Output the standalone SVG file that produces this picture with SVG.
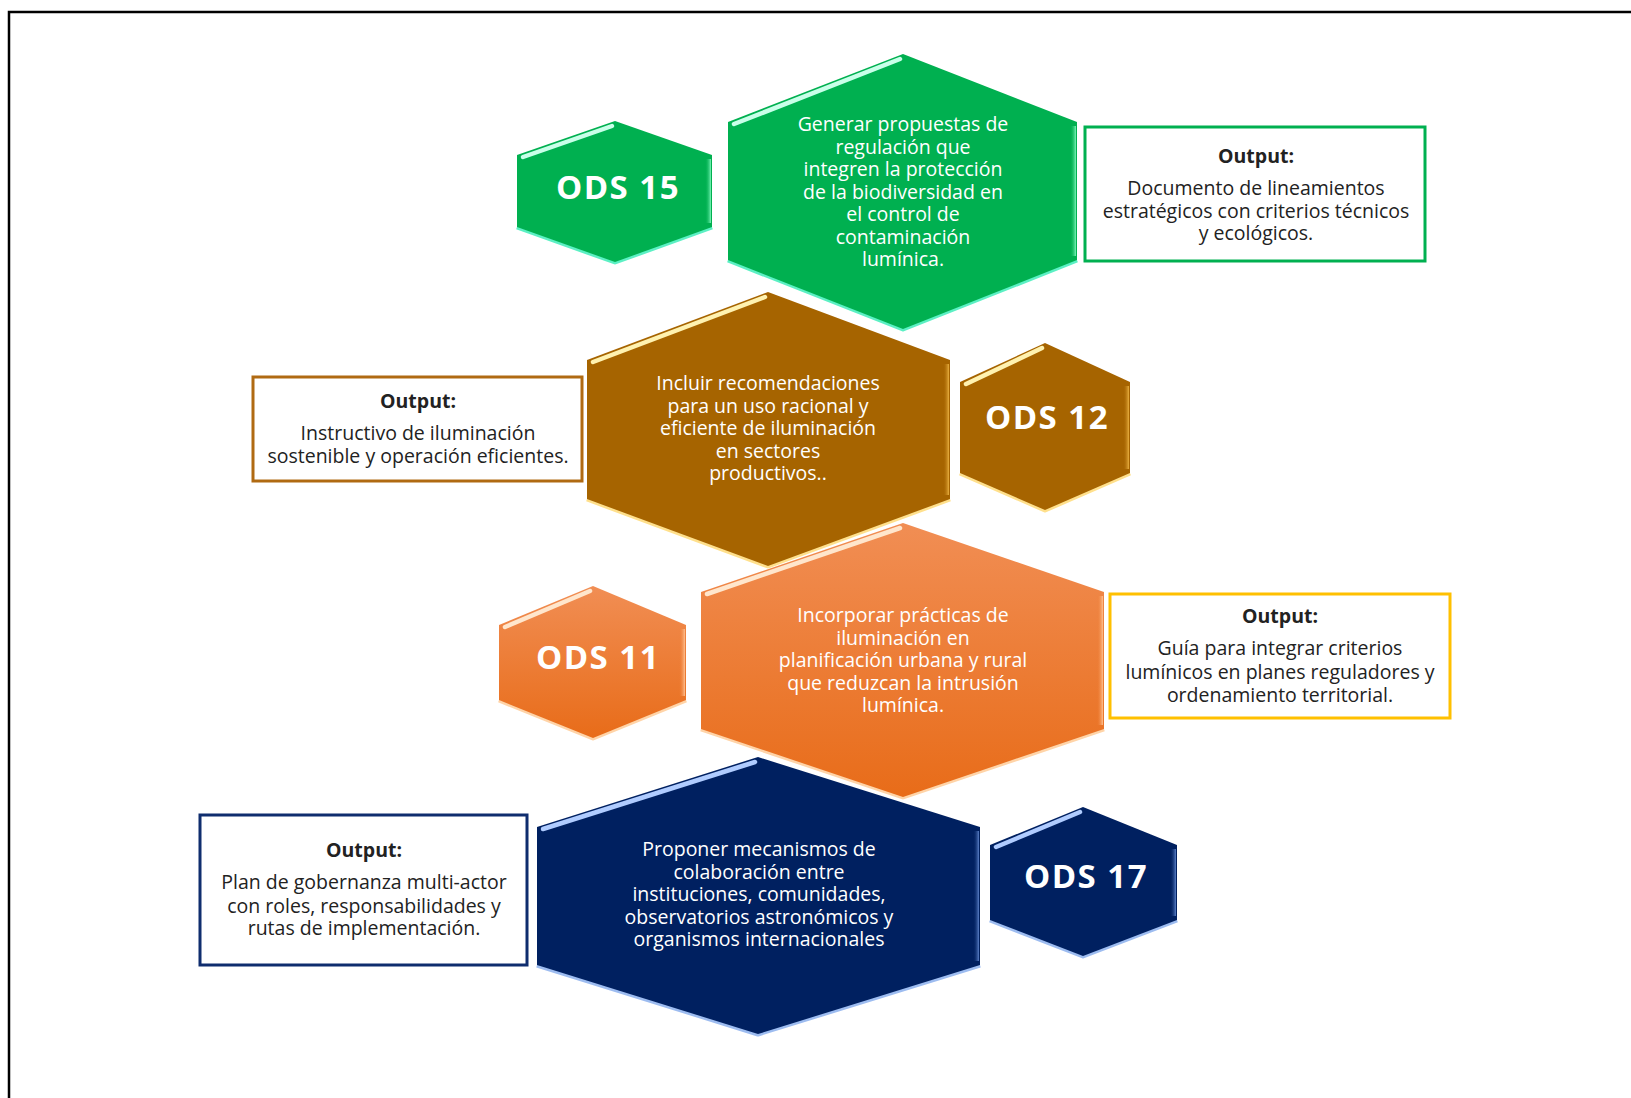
<svg xmlns="http://www.w3.org/2000/svg" width="1631" height="1098" viewBox="0 0 1631 1098">
<defs>
<filter id="soft" filterUnits="userSpaceOnUse" x="0" y="0" width="1631" height="1098"><feGaussianBlur stdDeviation="0.7"/></filter>
<linearGradient id="og" x1="0" y1="0" x2="0" y2="1"><stop offset="0" stop-color="#f18e54"/><stop offset="1" stop-color="#e86c19"/></linearGradient>
<linearGradient id="sg" x1="0" y1="0" x2="1" y2="0"><stop offset="0" stop-color="#00b050" stop-opacity="0"/><stop offset="1" stop-color="#7af5b8"/></linearGradient>
<linearGradient id="sb" x1="0" y1="0" x2="1" y2="0"><stop offset="0" stop-color="#a66400" stop-opacity="0"/><stop offset="1" stop-color="#eab040"/></linearGradient>
<linearGradient id="so" x1="0" y1="0" x2="1" y2="0"><stop offset="0" stop-color="#ee7a30" stop-opacity="0"/><stop offset="1" stop-color="#ffc090"/></linearGradient>
<linearGradient id="sn" x1="0" y1="0" x2="1" y2="0"><stop offset="0" stop-color="#002060" stop-opacity="0"/><stop offset="1" stop-color="#5a80c8"/></linearGradient>
</defs>
<style>
.frame{fill:none;stroke:#000;stroke-width:2.5}
.ht{font-family:"Open Sans","Liberation Sans",sans-serif;font-size:19.5px;fill:#fff;text-anchor:middle}
.ods{font-family:"Open Sans","Liberation Sans",sans-serif;font-size:33px;font-weight:700;fill:#fff;text-anchor:middle;letter-spacing:1.5px}
.bt{font-family:"Open Sans","Liberation Sans",sans-serif;font-size:19.5px;fill:#222;text-anchor:middle}
.bh{font-weight:700}
.box{fill:#fff;stroke-width:3}
.hl{fill:none;stroke-width:4.5;stroke-linecap:round;filter:url(#soft)}
.glow{fill:none;stroke-width:5;stroke-linejoin:round}
.g .fill{fill:#00b050}.g .glow{stroke:#5cf0c4}.g .hl{stroke:#c9ffe9}
.b .fill{fill:#a66400}.b .glow{stroke:#ffe08c}.b .hl{stroke:#fff2b0}
.o .fill{fill:url(#og)}.o .glow{stroke:#ffd4a8}.o .hl{stroke:#ffe6cc}
.n .fill{fill:#002060}.n .glow{stroke:#9dbcf0}.n .hl{stroke:#b0ccff}
</style>
<rect width="1631" height="1098" fill="#fff"/>
<path class="frame" d="M9,1098 V12 H1631"/>
<g id="connectors"/>

<g id="hex-green-main" class="g">
<polyline class="glow" points="728,260 903,329 1077,260"/>
<polygon class="fill" points="903,54 1077,122 1077,260 903,329 728,260 728,122"/>
<line class="hl" x1="734" y1="124" x2="900" y2="59"/>
<rect x="1070" y="126" width="6" height="130" fill="url(#sg)"/>
<text class="ht"><tspan x="903" y="131">Generar propuestas de</tspan><tspan x="903" y="153.5">regulación que</tspan><tspan x="903" y="176">integren la protección</tspan><tspan x="903" y="198.5">de la biodiversidad en</tspan><tspan x="903" y="221">el control de</tspan><tspan x="903" y="243.5">contaminación</tspan><tspan x="903" y="266">lumínica.</tspan></text>
</g>
<g id="hex-ods15" class="g">
<polyline class="glow" points="517,227 615,262 712,227"/>
<polygon class="fill" points="615,121 712,155 712,227 615,262 517,227 517,155"/>
<line class="hl" x1="523" y1="157" x2="612" y2="126"/>
<rect x="705" y="159" width="6" height="64" fill="url(#sg)"/>
<text class="ods" x="618" y="199">ODS 15</text>
</g>
<g id="out-green">
<rect class="box" x="1085" y="127" width="340" height="134" stroke="#00b050"/>
<text class="bt"><tspan class="bh" x="1256" y="163">Output:</tspan><tspan x="1256" y="195">Documento de lineamientos</tspan><tspan x="1256" y="217.5">estratégicos con criterios técnicos</tspan><tspan x="1256" y="239.5">y ecológicos.</tspan></text>
</g>

<g id="hex-brown-main" class="b">
<polyline class="glow" points="587,499 768,566 950,499"/>
<polygon class="fill" points="768,292 950,360 950,499 768,566 587,499 587,360"/>
<line class="hl" x1="593" y1="362" x2="765" y2="297"/>
<rect x="943" y="364" width="6" height="131" fill="url(#sb)"/>
<text class="ht"><tspan x="768" y="390">Incluir recomendaciones</tspan><tspan x="768" y="412.5">para un uso racional y</tspan><tspan x="768" y="435">eficiente de iluminación</tspan><tspan x="768" y="457.5">en sectores</tspan><tspan x="768" y="480">productivos..</tspan></text>
</g>
<g id="hex-ods12" class="b">
<polyline class="glow" points="960,473 1045,510 1130,473"/>
<polygon class="fill" points="1045,343 1130,382 1130,473 1045,510 960,473 960,382"/>
<line class="hl" x1="966" y1="384" x2="1042" y2="348"/>
<rect x="1123" y="386" width="6" height="83" fill="url(#sb)"/>
<text class="ods" x="1047" y="429">ODS 12</text>
</g>
<g id="out-brown">
<rect class="box" x="253" y="377" width="329" height="104" stroke="#b06a12"/>
<text class="bt"><tspan class="bh" x="418" y="408">Output:</tspan><tspan x="418" y="440">Instructivo de iluminación</tspan><tspan x="418" y="462.5">sostenible y operación eficientes.</tspan></text>
</g>

<g id="hex-orange-main" class="o">
<polyline class="glow" points="701,729 903,797 1104,729"/>
<polygon class="fill" points="903,523 1104,592 1104,729 903,797 701,729 701,592"/>
<line class="hl" x1="707" y1="594" x2="900" y2="528"/>
<rect x="1097" y="596" width="6" height="129" fill="url(#so)"/>
<text class="ht"><tspan x="903" y="622">Incorporar prácticas de</tspan><tspan x="903" y="644.5">iluminación en</tspan><tspan x="903" y="667">planificación urbana y rural</tspan><tspan x="903" y="689.5">que reduzcan la intrusión</tspan><tspan x="903" y="712">lumínica.</tspan></text>
</g>
<g id="hex-ods11" class="o">
<polyline class="glow" points="499,700 593,738 686,700"/>
<polygon class="fill" points="593,586 686,625 686,700 593,738 499,700 499,625"/>
<line class="hl" x1="505" y1="627" x2="590" y2="591"/>
<rect x="679" y="629" width="6" height="67" fill="url(#so)"/>
<text class="ods" x="598" y="669">ODS 11</text>
</g>
<g id="out-orange">
<rect class="box" x="1110" y="594" width="340" height="124" stroke="#ffc000"/>
<text class="bt"><tspan class="bh" x="1280" y="623">Output:</tspan><tspan x="1280" y="655">Guía para integrar criterios</tspan><tspan x="1280" y="679">lumínicos en planes reguladores y</tspan><tspan x="1280" y="701.5">ordenamiento territorial.</tspan></text>
</g>

<g id="hex-navy-main" class="n">
<polyline class="glow" points="537,965 758,1034 980,965"/>
<polygon class="fill" points="758,757 980,827 980,965 758,1034 537,965 537,827"/>
<line class="hl" x1="543" y1="829" x2="755" y2="762"/>
<rect x="973" y="831" width="6" height="130" fill="url(#sn)"/>
<text class="ht"><tspan x="759" y="856">Proponer mecanismos de</tspan><tspan x="759" y="878.5">colaboración entre</tspan><tspan x="759" y="901">instituciones, comunidades,</tspan><tspan x="759" y="923.5">observatorios astronómicos y</tspan><tspan x="759" y="946">organismos internacionales</tspan></text>
</g>
<g id="hex-ods17" class="n">
<polyline class="glow" points="990,920 1083,956 1177,920"/>
<polygon class="fill" points="1083,807 1177,845 1177,920 1083,956 990,920 990,845"/>
<line class="hl" x1="996" y1="847" x2="1080" y2="812"/>
<rect x="1170" y="849" width="6" height="67" fill="url(#sn)"/>
<text class="ods" x="1086" y="888">ODS 17</text>
</g>
<g id="out-navy">
<rect class="box" x="200" y="815" width="327" height="150" stroke="#0f2d6e"/>
<text class="bt"><tspan class="bh" x="364" y="857">Output:</tspan><tspan x="364" y="889">Plan de gobernanza multi-actor</tspan><tspan x="364" y="912.5">con roles, responsabilidades y</tspan><tspan x="364" y="935">rutas de implementación.</tspan></text>
</g>
</svg>
